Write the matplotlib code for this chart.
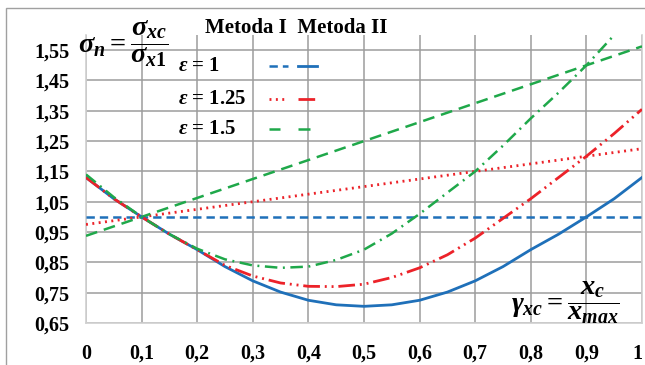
import matplotlib

matplotlib.use("Agg")

import matplotlib.pyplot as plt  # noqa: E402
from matplotlib.lines import Line2D  # noqa: E402
from matplotlib.patches import Rectangle  # noqa: E402
from matplotlib.ticker import FuncFormatter  # noqa: E402

plt.rcParams["font.family"] = "Liberation Serif"
plt.rcParams["font.weight"] = "bold"
plt.rcParams["mathtext.fontset"] = "custom"
plt.rcParams["mathtext.rm"] = "Liberation Serif:bold"
plt.rcParams["mathtext.it"] = "Liberation Serif:italic:bold"
plt.rcParams["mathtext.bf"] = "Liberation Serif:bold"
plt.rcParams["lines.scale_dashes"] = False

_BLUE = "#1f70b9"
_RED = "#ec2229"
_GREEN = "#1fa84a"
_GRID = "#9c9c9c"

# Metoda I - proste (wartości na końcach przedziału)
x_m1 = [0.0, 1.0]
eps1_m1 = [1.0, 1.0]
eps125_m1 = [0.975, 1.225]
eps15_m1 = [0.9375, 1.5625]

# Metoda II - krzywe
x_m2 = [0.0, 0.05, 0.1, 0.15, 0.2, 0.25, 0.3, 0.35, 0.4, 0.45, 0.5,
        0.55, 0.6, 0.65, 0.7, 0.75, 0.8, 0.85, 0.9, 0.95, 1.0]
eps1_m2 = [1.13, 1.06, 1.0, 0.943, 0.892, 0.836, 0.789, 0.752, 0.725, 0.71, 0.705,
           0.71, 0.725, 0.752, 0.789, 0.836, 0.892, 0.943, 1.0, 1.06, 1.13]
eps125_m2 = [1.13, 1.06, 1.0, 0.943, 0.892, 0.84, 0.805, 0.782, 0.771, 0.77, 0.778,
             0.80, 0.832, 0.875, 0.93, 0.995, 1.06, 1.13, 1.20, 1.275, 1.355]
eps15_m2 = [1.14, 1.065, 1.0, 0.943, 0.895, 0.86, 0.84, 0.832, 0.836, 0.858, 0.892,
            0.945, 1.01, 1.08, 1.15, 1.235, 1.325, 1.41, 1.50, 1.60, 1.70]

x_ticks = [0, 0.1, 0.2, 0.3, 0.4, 0.5, 0.6, 0.7, 0.8, 0.9, 1.0]
y_ticks = [0.65, 0.75, 0.85, 0.95, 1.05, 1.15, 1.25, 1.35, 1.45, 1.55]
eps_labels = ["1", "1.25", "1.5"]

styles_m1 = [
    dict(color=_BLUE, lw=1.8, dashes=(6.0, 3.6)),
    dict(color=_RED, lw=2.0, dashes=(1.4, 3.2)),
    dict(color=_GREEN, lw=1.8, dashes=(8.5, 5.0)),
]
styles_m2 = [
    dict(color=_BLUE, lw=2.0, ls="-"),
    dict(color=_RED, lw=2.0, dashes=(12, 3.5, 1.4, 3.5, 1.4, 3.5)),
    dict(color=_GREEN, lw=1.8, dashes=(9, 4, 1.4, 4)),
]

W, H = 645, 365
fig = plt.figure(figsize=(W / 100, H / 100), dpi=100)
ax = fig.add_axes([86 / W, 42 / H, 556 / W, 288 / H])

for ys, st in zip([eps1_m1, eps125_m1, eps15_m1], styles_m1):
    ax.plot(x_m1, ys, **st, zorder=3)
for ys, st in zip([eps1_m2, eps125_m2, eps15_m2], styles_m2):
    ax.plot(x_m2, ys, **st, zorder=3)

ax.set_xlim(0, 1)
ax.set_ylim(0.65, 1.60)
ax.set_xticks(x_ticks)
ax.set_yticks(y_ticks)
ax.xaxis.set_major_formatter(FuncFormatter(lambda v, _: f"{v:g}".replace(".", ",")))
ax.yaxis.set_major_formatter(FuncFormatter(lambda v, _: f"{v:.2f}".replace(".", ",")))
ax.tick_params(length=0, labelsize=14.5, pad=12)
ax.tick_params(axis="x", pad=15)
ax.grid(True, color=_GRID, lw=1.1)
ax.spines["top"].set_visible(False)
for side in ["left", "bottom", "right"]:
    ax.spines[side].set_color("#d0d0d0")
    ax.spines[side].set_linewidth(1.2)
# ostatnia etykieta osi X dosunięta do krawędzi
ax.get_xticklabels()[-1].set_horizontalalignment("right")

# opis osi Y i osi X
fig.text(78 / W, 1 - 44 / H, r"$\sigma_n = \dfrac{\sigma_{xc}}{\sigma_{x1}}$",
         fontsize=20.5, va="center", ha="left")
ax.text(0.765, 0.07, r"$\gamma_{xc} = \dfrac{x_c}{x_{max}}$", transform=ax.transAxes,
        fontsize=20.5, va="center", ha="left")

# legenda w formie tabelki
ax.text(0.214, 1.025, "Metoda I  Metoda II", transform=ax.transAxes,
        fontsize=15, va="center", ha="left", clip_on=False)
row_y = [0.892, 0.778, 0.674]
sample_len = [0.034, 0.034, 0.02]
for lab, yy, ln, s1, s2 in zip(eps_labels, row_y, sample_len, styles_m1, styles_m2):
    ax.text(0.165, yy, rf"$\varepsilon$ = {lab}", transform=ax.transAxes,
            fontsize=15, va="center", ha="left")
    ax.add_line(Line2D([0.329, 0.329 + ln], [yy, yy], transform=ax.transAxes, **s1))
    ax.add_line(Line2D([0.382, 0.382 + ln], [yy, yy], transform=ax.transAxes, **s2))

# ramka wykresu
fig.add_artist(Rectangle((6 / W, -0.2), 1.2, (365 - 8) / H + 0.2,
                         transform=fig.transFigure, fill=False,
                         edgecolor="#a0a0a0", lw=1.0))

fig.savefig("out.png", dpi=100)
